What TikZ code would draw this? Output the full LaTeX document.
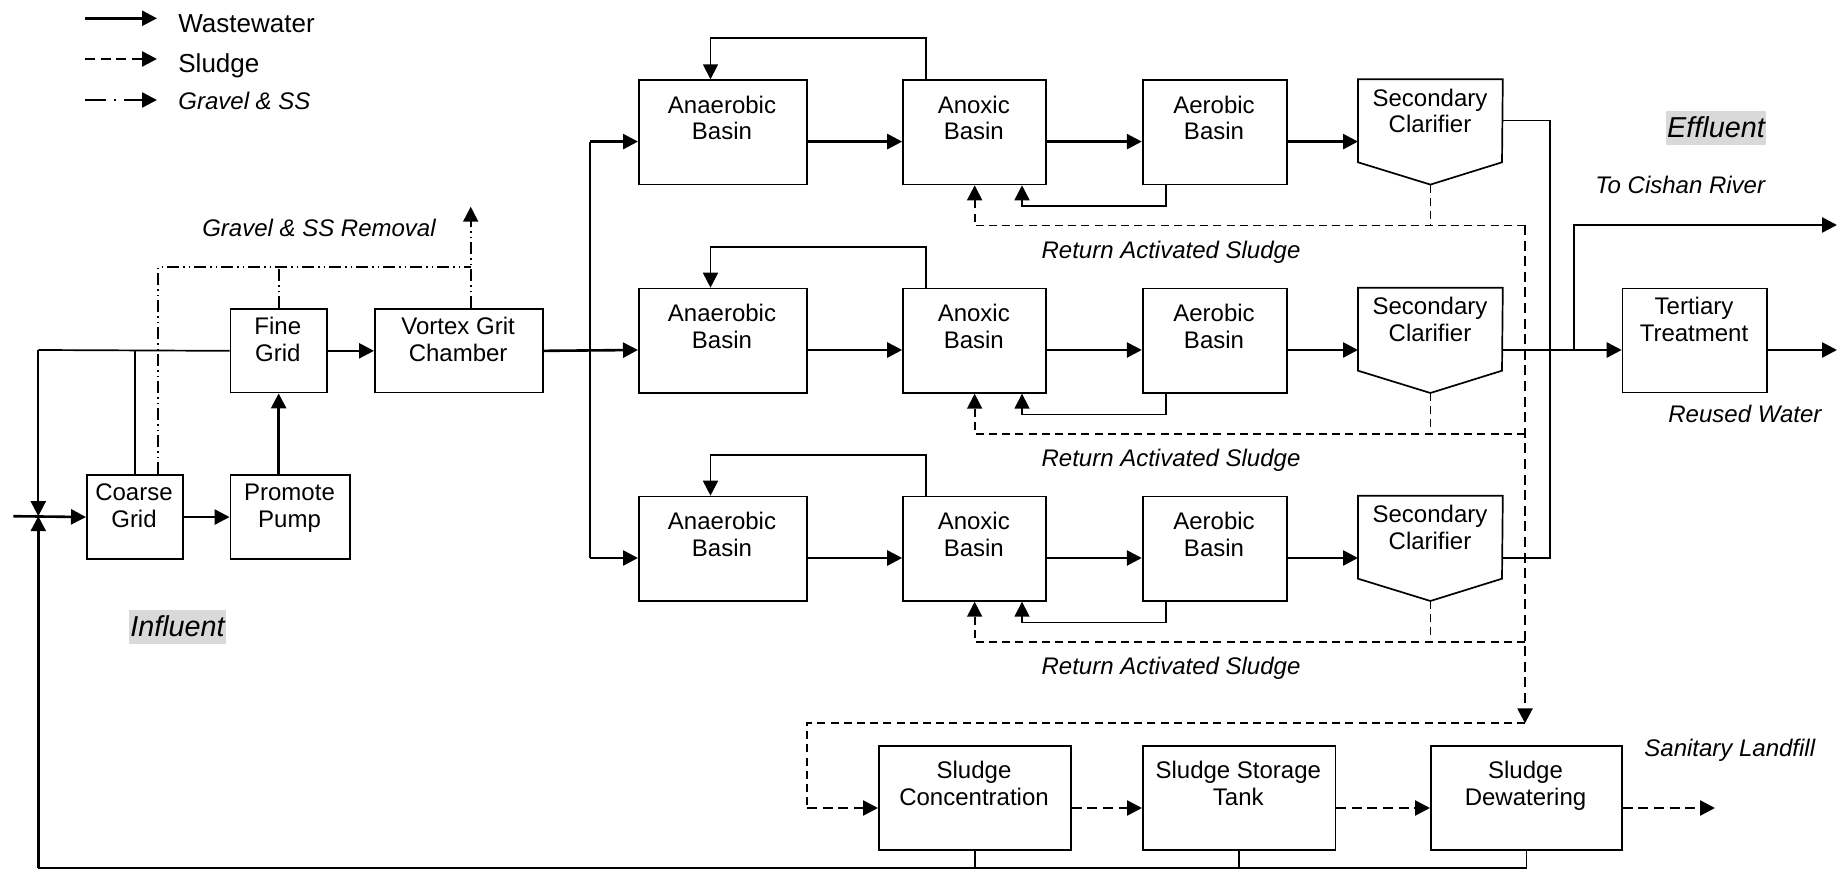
\documentclass[tikz,border=0pt]{standalone}
\usepackage{fontspec}
\setmainfont{Liberation Sans}
\usetikzlibrary{arrows.meta}
\definecolor{shade}{HTML}{D9D9D9}
% two centred lines whose reference point is the baseline of the first line
\newcommand\twolines[2]{\begin{tabular}[t]{@{}c@{}}#1\\#2\end{tabular}}
\begin{document}
\begin{tikzpicture}[x=0.5pt,y=-0.5pt,
  box/.style={draw,line width=0.85pt,inner sep=0pt,anchor=north west},
  hidden/.style={inner sep=0pt,anchor=north west},
  sz/.style 2 args={minimum width=#1*0.5pt,minimum height=#2*0.5pt},
  txt/.style={anchor=base,inner sep=0pt,font=\fontsize{12}{13.3}\selectfont},
  itl/.style={anchor=base,inner sep=0pt,font=\fontsize{12}{13.3}\selectfont\itshape},
  big/.style={anchor=base,fill=shade,text height=13.2pt,text depth=3.8pt,
    inner xsep=0.6pt,inner ysep=0pt,font=\fontsize{14.4}{16}\selectfont\itshape},
  tip/.style={-{Triangle[length=7.5pt,width=7.5pt]}},
  wire/.style={line width=0.85pt},
  flow/.style={line width=1.3pt,tip},
  thinflow/.style={line width=0.85pt,tip},
  ras/.style={line width=0.85pt,dash pattern=on 4pt off 2.6pt},
  sludge/.style={line width=1.3pt,dash pattern=on 5pt off 2.8pt,tip},
  grit/.style={line width=0.9pt,dash pattern=on 6pt off 2pt on 0.75pt off 2pt on 0.75pt off 2pt},
  gritkey/.style={line width=1.3pt,dash pattern=on 10.5pt off 4pt on 0.75pt off 4.25pt,tip},
]
\useasboundingbox (0,0) rectangle (1842,870);

% ---------- legend ----------
\coordinate (k1a) at (85,18.3);  \coordinate (k1b) at (157,18.3);
\coordinate (k2a) at (85,59);    \coordinate (k2b) at (157,59);
\coordinate (k3a) at (85,100);   \coordinate (k3b) at (157,100);
\draw[flow] (k1a) -- (k1b);
\draw[sludge] (k2a) -- (k2b);
\draw[gritkey] (k3a) -- (k3b);
\node[anchor=base west,inner sep=0pt,font=\fontsize{13}{15}\selectfont] (k1t) at (178,32.3) {Wastewater};
\node[anchor=base west,inner sep=0pt,font=\fontsize{13}{15}\selectfont] (k2t) at (178,73) {Sludge};
\node[itl,anchor=base west] (k3t) at (178,110) {Gravel \& SS};

% ---------- pretreatment ----------
\node[box,sz={96}{83.4}] (coarse) at (86,474.5) {};
\node[txt] (coarse-t) at (134,500.5) {\twolines{Coarse}{Grid}};
\node[box,sz={119.8}{83.4}] (pump) at (229.6,474.5) {};
\node[txt] (pump-t) at (289.5,501) {\twolines{Promote}{Pump}};
\node[box,sz={96.4}{83.4}] (fine) at (229.6,308.3) {};
\node[txt] (fine-t) at (277.8,335) {\twolines{Fine}{Grid}};
\node[box,sz={168.3}{83.4}] (vortex) at (374,308.3) {};
\node[txt] (vortex-t) at (458.1,335) {\twolines{Vortex Grit}{Chamber}};

\coordinate (inl) at (13.3,516.2);
\coordinate (jn) at (38.3,516.2);
\coordinate (jtop) at (38.3,350);
\coordinate (jbot) at (38.3,868.3);

\draw[flow] (inl) -- (coarse.west);
\draw[flow] (coarse.east) -- (pump.west);
\draw[flow] (fine.south |- pump.north) -- (fine.south);
\draw[flow] (fine.east) -- (vortex.west);
\draw[wire] (fine.west) -- (jtop);
\draw[wire] (coarse.north) -- (coarse.north |- jtop);
\draw[line width=1pt,tip] (jtop) -- (jn);
\draw[flow] (jbot) -- (jn);

% gravel and suspended solids removal
\coordinate (g1) at (158.3,267.3);
\coordinate (g2) at (470.7,267.3);
\coordinate (gtop) at (470.7,206.7);
\draw[grit] (g1 |- coarse.north) -- (g1) -- (g2);
\draw[grit] (fine.north) -- (fine.north |- g1);
\draw[grit,tip] (g2 |- vortex.north) -- (gtop);
\node[itl] (grit-t) at (319,236.5) {Gravel \& SS Removal};

\node[big] (influent) at (177.5,636.5) {Influent};

% ---------- three biological trains ----------
\coordinate (d1) at (590,141.6);
\coordinate (d3) at (590,558);
\draw[wire] (d1) -- (d3);
\foreach \r/\T in {1/79.3,2/287.7,3/495.7}{
  \coordinate (lev\r) at (0,{\T+62.3});
  \node[box,sz={168}{104.3}] (an\r) at (638,\T) {};
  \node[txt] (an\r-t) at (722,{\T+34}) {\twolines{Anaerobic}{Basin}};
  \node[box,sz={143.2}{104.3}] (ax\r) at (902.2,\T) {};
  \node[txt] (ax\r-t) at (973.8,{\T+34}) {\twolines{Anoxic}{Basin}};
  \node[box,sz={144.4}{104.3}] (ae\r) at (1141.8,\T) {};
  \node[txt] (ae\r-t) at (1214,{\T+34}) {\twolines{Aerobic}{Basin}};
  \node[hidden,sz={144}{104.5}] (cl\r) at (1358,\T) {};
  \draw[line width=0.85pt] (cl\r.north west) -- (cl\r.north east) -- (1502,{\T+83})
    -- (cl\r.south) -- (1358,{\T+83}) -- cycle;
  \node[txt] (cl\r-t) at (1430,{\T+26.8}) {\twolines{Secondary}{Clarifier}};
  % main flow through the train
  \draw[flow] (an\r.east |- lev\r) -- (ax\r.west |- lev\r);
  \draw[flow] (ax\r.east |- lev\r) -- (ae\r.west |- lev\r);
  \draw[flow] (ae\r.east |- lev\r) -- (cl\r.west |- lev\r);
  % internal recycle anoxic -> anaerobic
  \draw[thinflow] ([xshift=11.9pt]ax\r.north west) -- ++(0,-41) -| ([xshift=36.25pt]an\r.north west);
  % nitrate recycle aerobic -> anoxic
  \draw[thinflow] ([xshift=12.1pt]ae\r.south west) -- ++(0,20.7) -| ([xshift=59.9pt]ax\r.south west);
  % return activated sludge
  \draw[ras] (cl\r.south) -- ++(0,41.8);
  \draw[ras,tip] (1525,{\T+146.3}) -| (ax\r.south);
  \node[itl] (ras\r-t) at (1171,{\T+179}) {Return Activated Sludge};
}
\draw[flow] (d1) -- (an1.west |- lev1);
\draw[flow] (d3) -- (an3.west |- lev3);
\draw[flow] (vortex.east) -- (an2.west |- lev2);

% ---------- effluent ----------
\node[box,sz={144.7}{104}] (tert) at (1621.7,287.7) {};
\node[txt] (tert-t) at (1694,{287.7+26.8}) {\twolines{Tertiary}{Treatment}};
\coordinate (c1) at (1502,120.5);
\coordinate (c2) at (1550,120.5);
\coordinate (c3) at (1550,558);
\draw[wire] (c1) -- (c2) -- (c3) -- (cl3.east |- lev3);
\draw[flow] (cl2.east |- lev2) -- (tert.west |- lev2);
\coordinate (br) at (1574,350);
\coordinate (river) at (1837,225);
\coordinate (reuse) at (1837,350);
\draw[flow] (br) |- (river);
\draw[flow] (tert.east |- lev2) -- (reuse);
\node[big] (effluent) at (1716,137.3) {Effluent};
\node[itl,anchor=base east] (river-t) at (1765.5,193.5) {To Cishan River};
\node[itl,anchor=base west] (reuse-t) at (1668,422.7) {Reused Water};

% ---------- sludge treatment ----------
\node[box,sz={192}{104}] (conc) at (878,745) {};
\node[txt] (conc-t) at (974,778.5) {\twolines{Sludge}{Concentration}};
\node[box,sz={192.5}{104}] (store) at (1142,745) {};
\node[txt] (store-t) at (1238.3,778.5) {\twolines{Sludge Storage}{Tank}};
\node[box,sz={191}{104}] (dew) at (1430,745) {};
\node[txt] (dew-t) at (1525.5,778.5) {\twolines{Sludge}{Dewatering}};
\coordinate (slev) at (0,808);
\coordinate (s0) at (1525,225);
\coordinate (s1) at (1525,723.3);
\coordinate (s2) at (807,808);
\coordinate (landfill) at (1715,808);
\draw[sludge] (s0) -- (s1);
\draw[ras] (s1) -| (s2);
\draw[sludge] (s2) -- (conc.west |- slev);
\draw[sludge] (conc.east |- slev) -- (store.west |- slev);
\draw[sludge] (store.east |- slev) -- (dew.west |- slev);
\draw[sludge] (dew.east |- slev) -- (landfill);
\node[itl,anchor=base west] (landfill-t) at (1644,757) {Sanitary Landfill};

% supernatant back to the headworks
\draw[wire] (conc.south) -- (conc.south |- jbot);
\draw[wire] (store.south) -- (store.south |- jbot);
\draw[wire] (dew.south) -- (dew.south |- jbot) -- (jbot);
\end{tikzpicture}
\end{document}
